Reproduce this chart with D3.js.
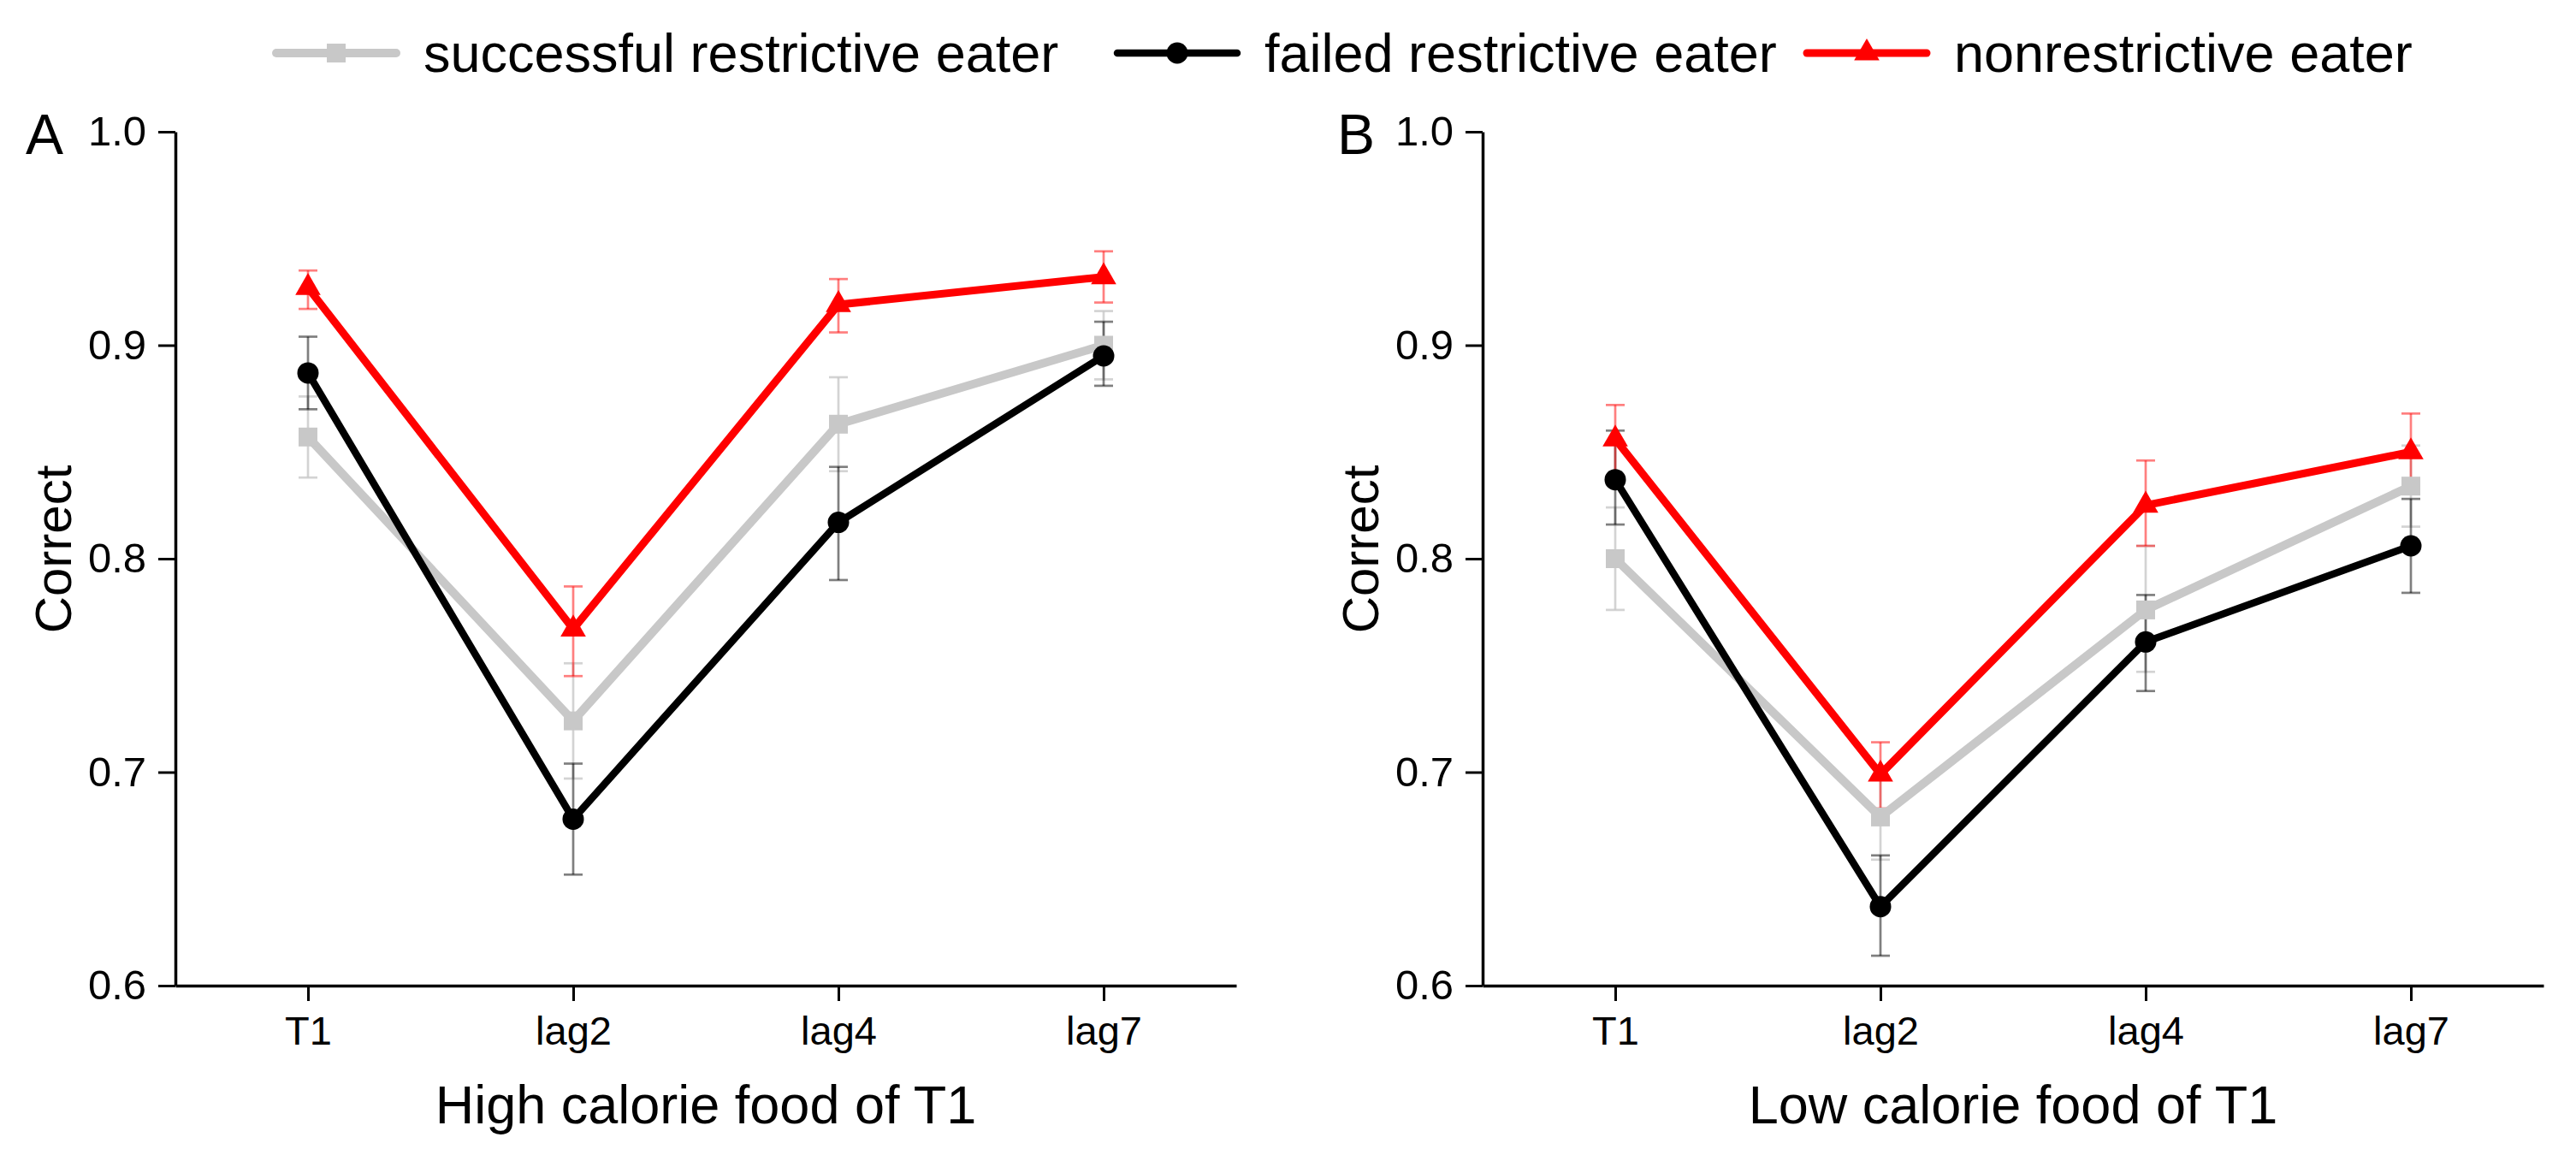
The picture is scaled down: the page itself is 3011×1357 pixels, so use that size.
<!DOCTYPE html>
<html>
<head>
<meta charset="utf-8">
<script src="https://cdn.jsdelivr.net/npm/d3@7/dist/d3.min.js"></script>
<style>
  body { margin: 0; background: #fff; }
  text { font-family: "Liberation Sans", Arial, sans-serif; }
</style>
</head>
<body>
<div id="chart"></div>
<script>
// categories on the x axis
var categories = ["T1", "lag2", "lag4", "lag7"];
var yTicks = [0.6, 0.7, 0.8, 0.9, 1.0];
var seriesNames = ["successful restrictive eater", "failed restrictive eater", "nonrestrictive eater"];

// panel A: high calorie food of T1
var successA = [0.857, 0.724, 0.863, 0.900];
var successALo = [0.838, 0.697, 0.841, 0.884];
var successAHi = [0.876, 0.751, 0.885, 0.916];
var failedA = [0.887, 0.678, 0.817, 0.895];
var failedALo = [0.870, 0.652, 0.790, 0.881];
var failedAHi = [0.904, 0.704, 0.843, 0.911];
var nonA = [0.927, 0.767, 0.919, 0.932];
var nonALo = [0.917, 0.745, 0.906, 0.920];
var nonAHi = [0.935, 0.787, 0.931, 0.944];

// panel B: low calorie food of T1
var successB = [0.800, 0.679, 0.776, 0.834];
var successBLo = [0.776, 0.659, 0.747, 0.815];
var successBHi = [0.824, 0.698, 0.806, 0.853];
var failedB = [0.837, 0.637, 0.761, 0.806];
var failedBLo = [0.816, 0.614, 0.738, 0.784];
var failedBHi = [0.860, 0.661, 0.783, 0.828];
var nonB = [0.856, 0.699, 0.825, 0.850];
var nonBLo = [0.839, 0.683, 0.806, 0.831];
var nonBHi = [0.872, 0.714, 0.846, 0.868];

var styles = [
  { color: "#c8c8c8", err: "#c8c8c8", errOp: 0.8, width: 10, marker: "square" },
  { color: "#000000", err: "#000000", errOp: 0.5, width: 8.5, marker: "circle" },
  { color: "#ff0000", err: "#ff0000", errOp: 0.5, width: 9, marker: "triangle" }
];

var svg = d3.select("#chart").append("svg")
  .attr("width", 3011)
  .attr("height", 1357)
  .style("background", "#fff");

function drawMarker(g, type, x, y, color) {
  if (type == "square") {
    g.append("rect").attr("x", x - 11).attr("y", y - 11)
      .attr("width", 22).attr("height", 22).attr("fill", color);
  } else if (type == "circle") {
    g.append("circle").attr("cx", x).attr("cy", y).attr("r", 12.5).attr("fill", color);
  } else {
    g.append("path")
      .attr("d", d3.symbol().type(d3.symbolTriangle).size(380)())
      .attr("transform", "translate(" + x + "," + y + ")")
      .attr("fill", color);
  }
}

function drawPanel(opt) {
  var x = d3.scalePoint().domain(categories).range([opt.x0, opt.x0 + 1240]).padding(0.5);
  var y = d3.scaleLinear().domain([0.6, 1.0]).range([1152, 154]);
  var g = svg.append("g");

  // axes
  var yAxis = g.append("g")
    .attr("transform", "translate(" + opt.x0 + ",0)")
    .call(d3.axisLeft(y).tickValues(yTicks).tickFormat(d3.format(".1f")).tickSize(20).tickSizeOuter(0).tickPadding(14));
  var xAxis = g.append("g")
    .attr("transform", "translate(0,1152)")
    .call(d3.axisBottom(x).tickSize(18).tickSizeOuter(0).tickPadding(18));
  g.selectAll(".domain").attr("stroke", "#000").attr("stroke-width", 3.5);
  g.selectAll(".tick line").attr("stroke", "#000").attr("stroke-width", 3);
  yAxis.selectAll("text").attr("font-size", 49).attr("fill", "#000").style("font-family", "Liberation Sans, Arial, sans-serif");
  xAxis.selectAll("text").attr("font-size", 47).attr("fill", "#000").style("font-family", "Liberation Sans, Arial, sans-serif");

  // labels
  g.append("text").attr("x", opt.labelX).attr("y", 180)
    .attr("font-size", 66).text(opt.label);
  g.append("text")
    .attr("transform", "translate(" + (opt.x0 - 122) + ",642) rotate(-90)")
    .attr("text-anchor", "middle").attr("font-size", 60).text("Correct");
  g.append("text").attr("x", opt.x0 + 620).attr("y", 1313)
    .attr("text-anchor", "middle").attr("font-size", 63).text(opt.title);

  // error bars
  opt.series.forEach(function(s, k) {
    var st = styles[k];
    categories.forEach(function(c, i) {
      var cx = x(c);
      var eb = g.append("g").attr("stroke", st.err).attr("stroke-opacity", st.errOp).attr("stroke-width", 2.7);
      eb.append("line").attr("x1", cx).attr("x2", cx).attr("y1", y(s.lo[i])).attr("y2", y(s.hi[i]));
      eb.append("line").attr("x1", cx - 11).attr("x2", cx + 11).attr("y1", y(s.lo[i])).attr("y2", y(s.lo[i]));
      eb.append("line").attr("x1", cx - 11).attr("x2", cx + 11).attr("y1", y(s.hi[i])).attr("y2", y(s.hi[i]));
    });
  });

  // lines and markers
  opt.series.forEach(function(s, k) {
    var st = styles[k];
    var line = d3.line().x(function(d, i) { return x(categories[i]) }).y(function(d) { return y(d) });
    g.append("path").datum(s.mean)
      .attr("d", line).attr("fill", "none")
      .attr("stroke", st.color).attr("stroke-width", st.width).attr("stroke-linejoin", "round");
    s.mean.forEach(function(v, i) {
      drawMarker(g, st.marker, x(categories[i]), y(v), st.color);
    });
  });
}

drawPanel({
  x0: 205, label: "A", labelX: 30, title: "High calorie food of T1",
  series: [
    { mean: successA, lo: successALo, hi: successAHi },
    { mean: failedA, lo: failedALo, hi: failedAHi },
    { mean: nonA, lo: nonALo, hi: nonAHi }
  ]
});
drawPanel({
  x0: 1733, label: "B", labelX: 1563, title: "Low calorie food of T1",
  series: [
    { mean: successB, lo: successBLo, hi: successBHi },
    { mean: failedB, lo: failedBLo, hi: failedBHi },
    { mean: nonB, lo: nonBLo, hi: nonBHi }
  ]
});

// legend
var legendX = [323, 1306, 2112];
var legend = svg.append("g");
seriesNames.forEach(function(name, k) {
  var st = styles[k];
  var lx = legendX[k];
  legend.append("line").attr("x1", lx).attr("x2", lx + 140).attr("y1", 62).attr("y2", 62)
    .attr("stroke", st.color).attr("stroke-width", st.width).attr("stroke-linecap", "round");
  drawMarker(legend, st.marker, lx + 70, 62, st.color);
  legend.append("text").attr("x", lx + 172).attr("y", 84).attr("font-size", 63).text(name);
});
</script>
</body>
</html>
